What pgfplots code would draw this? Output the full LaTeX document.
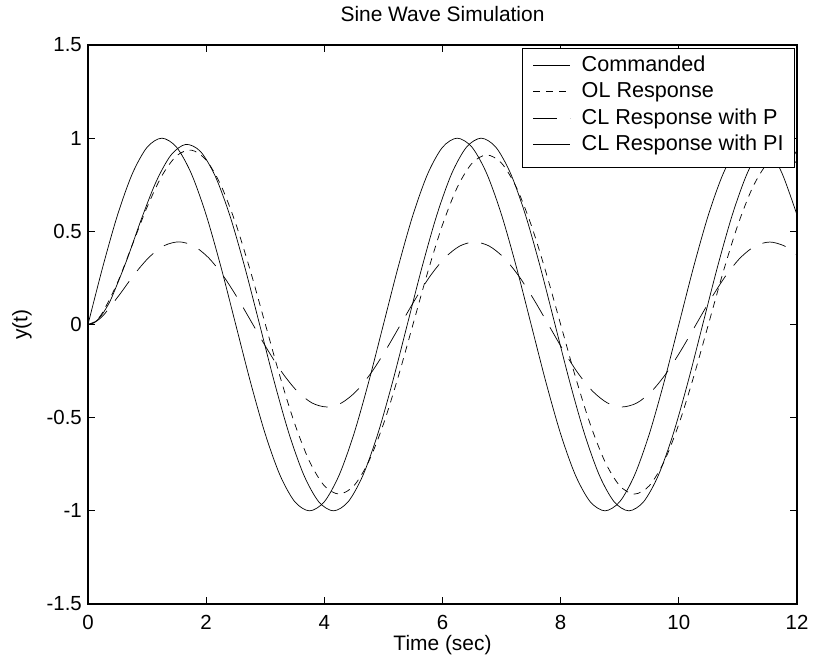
\documentclass[border=0pt]{standalone}
\usepackage{fontspec}
\setmainfont{Liberation Sans}
\usepackage{pgfplots}
\pgfplotsset{compat=1.18}
\begin{document}
\begin{tikzpicture}
\useasboundingbox (0,0) rectangle (813bp,662bp);
\begin{axis}[
  at={(88bp,58bp)}, anchor=south west,
  width=709bp, height=559bp, scale only axis,
  xmin=0, xmax=12, ymin=-1.5, ymax=1.5,
  xtick={0,2,4,6,8,10,12}, xticklabels={0,2,4,6,8,10,12},
  ytick={-1.5,-1,-0.5,0,0.5,1,1.5}, yticklabels={-1.5,-1,-0.5,0,0.5,1,1.5},
  tick align=inside, major tick length=7bp,
  tick style={black, line width=0.8bp},
  axis line style={line width=1.3bp},
  tick label style={font=\fontsize{20.5}{20.5}\selectfont},
  xticklabel style={inner sep=0pt, anchor=north, yshift=-11bp},
  yticklabel style={inner sep=0pt, anchor=east, xshift=-6bp},
  title={Sine Wave Simulation},
  title style={at={(axis description cs:0.5,1.0322)}, anchor=base, inner sep=0pt, font=\fontsize{21}{21}\selectfont},
  xlabel={Time (sec)},
  xlabel style={at={(axis description cs:0.5,-0.055)}, anchor=north, inner sep=0pt, font=\fontsize{21}{21}\selectfont},
  ylabel={y(t)},
  ylabel style={at={(axis description cs:-0.079,0.5)}, anchor=south, inner sep=0pt, font=\fontsize{21}{21}\selectfont},
  legend cell align=left,
  legend style={at={(0.9972,0.9946)}, anchor=north east, draw=black, fill=white, line width=0.9bp,
    font=\fontsize{21.7}{21.7}\selectfont, inner xsep=11bp, inner ysep=7bp, row sep=0.3bp,
    nodes={inner sep=0pt, text height=16bp, text depth=10bp},
    /tikz/every odd column/.style={column sep=11bp}},
  legend image code/.code={\draw[#1, line width=0.7bp] (0bp,3bp) -- (37bp,3bp);},
]
% Commanded
\addplot[black, solid, line width=0.7bp, smooth, no markers] coordinates {(0,0) (0.25,0.3090) (0.5,0.5878) (0.75,0.8090) (1,0.9511) (1.25,1) (1.5,0.9511) (1.75,0.8090) (2,0.5878) (2.25,0.3090) (2.5,0) (2.75,-0.3090) (3,-0.5878) (3.25,-0.8090) (3.5,-0.9511) (3.75,-1) (4,-0.9511) (4.25,-0.8090) (4.5,-0.5878) (4.75,-0.3090) (5,0) (5.25,0.3090) (5.5,0.5878) (5.75,0.8090) (6,0.9511) (6.25,1) (6.5,0.9511) (6.75,0.8090) (7,0.5878) (7.25,0.3090) (7.5,0) (7.75,-0.3090) (8,-0.5878) (8.25,-0.8090) (8.5,-0.9511) (8.75,-1) (9,-0.9511) (9.25,-0.8090) (9.5,-0.5878) (9.75,-0.3090) (10,0) (10.25,0.3090) (10.5,0.5878) (10.75,0.8090) (11,0.9511) (11.25,1) (11.5,0.9511) (11.75,0.8090) (12,0.5878)};
\addlegendentry{Commanded}
% OL Response
\addplot[black, line width=0.7bp, smooth, no markers, dash pattern=on 7bp off 6bp] coordinates {(0,0) (0.125,0.0179) (0.25,0.0660) (0.5,0.2253) (0.75,0.4274) (1,0.6297) (1.25,0.7977) (1.5,0.9054) (1.75,0.9359) (2,0.8823) (2.25,0.7471) (2.5,0.5420) (2.75,0.2858) (3,0.0030) (3.25,-0.2793) (3.5,-0.5337) (3.75,-0.7354) (4,-0.8655) (4.25,-0.91) (4.5,-0.8655) (4.75,-0.7362) (5,-0.5349) (5.25,-0.2812) (5.5,0) (5.75,0.2812) (6,0.5349) (6.25,0.7362) (6.5,0.8655) (6.75,0.91) (7,0.8655) (7.25,0.7362) (7.5,0.5349) (7.75,0.2812) (8,0) (8.25,-0.2812) (8.5,-0.5349) (8.75,-0.7362) (9,-0.8655) (9.25,-0.91) (9.5,-0.8655) (9.75,-0.7362) (10,-0.5349) (10.25,-0.2812) (10.5,0) (10.75,0.2812) (11,0.5349) (11.25,0.7362) (11.5,0.8655) (11.75,0.91) (12,0.8655)};
\addlegendentry{OL Response}
% CL Response with P
\addplot[black, line width=0.7bp, smooth, no markers, dash pattern=on 24bp off 13bp] coordinates {(0,0) (0.1,0.0085) (0.2,0.0313) (0.291,0.0607) (0.541,0.1633) (0.791,0.2718) (1.041,0.3631) (1.291,0.4232) (1.541,0.4435) (1.791,0.4213) (2.041,0.3580) (2.291,0.2601) (2.541,0.1367) (2.791,0) (3.041,-0.1367) (3.291,-0.2601) (3.541,-0.3580) (3.791,-0.4209) (4.041,-0.4425) (4.291,-0.4209) (4.541,-0.3580) (4.791,-0.2601) (5.041,-0.1367) (5.291,0) (5.541,0.1367) (5.791,0.2601) (6.041,0.3580) (6.291,0.4209) (6.541,0.4425) (6.791,0.4209) (7.041,0.3580) (7.291,0.2601) (7.541,0.1367) (7.791,0) (8.041,-0.1367) (8.291,-0.2601) (8.541,-0.3580) (8.791,-0.4209) (9.041,-0.4425) (9.291,-0.4209) (9.541,-0.3580) (9.791,-0.2601) (10.041,-0.1367) (10.291,0) (10.541,0.1367) (10.791,0.2601) (11.041,0.3580) (11.291,0.4209) (11.541,0.4425) (11.791,0.4209) (12,0.3709)};
\addlegendentry{CL Response with P}
% CL Response with PI
\addplot[black, solid, line width=0.7bp, smooth, no markers] coordinates {(0,0) (0.1,0.0095) (0.2,0.0380) (0.3,0.0836) (0.4043,0.1468) (0.6543,0.3441) (0.9043,0.5665) (1.1543,0.7674) (1.4043,0.9092) (1.6543,0.9665) (1.9043,0.9283) (2.1543,0.7956) (2.4043,0.5813) (2.6543,0.3069) (2.9043,0.0002) (3.1543,-0.3090) (3.4043,-0.5878) (3.6543,-0.8090) (3.9043,-0.9511) (4.1543,-1) (4.4043,-0.9511) (4.6543,-0.8090) (4.9043,-0.5878) (5.1543,-0.3090) (5.4043,0) (5.6543,0.3090) (5.9043,0.5878) (6.1543,0.8090) (6.4043,0.9511) (6.6543,1) (6.9043,0.9511) (7.1543,0.8090) (7.4043,0.5878) (7.6543,0.3090) (7.9043,0) (8.1543,-0.3090) (8.4043,-0.5878) (8.6543,-0.8090) (8.9043,-0.9511) (9.1543,-1) (9.4043,-0.9511) (9.6543,-0.8090) (9.9043,-0.5878) (10.1543,-0.3090) (10.4043,0) (10.6543,0.3090) (10.9043,0.5878) (11.1543,0.8090) (11.4043,0.9511) (11.6543,1) (11.9043,0.9511) (12,0.9066)};
\addlegendentry{CL Response with PI}
\end{axis}
\end{tikzpicture}
\end{document}
